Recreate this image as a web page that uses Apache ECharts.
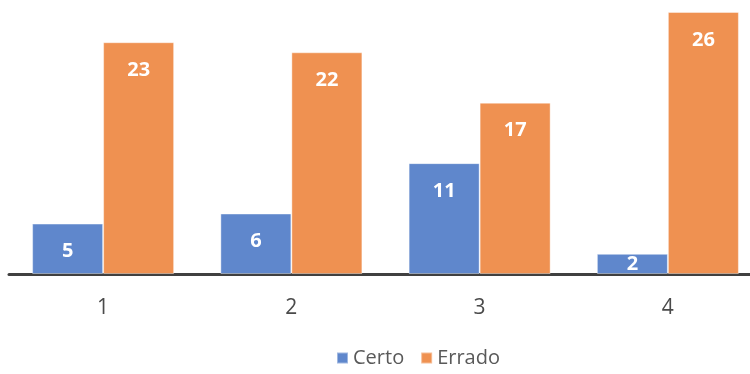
<!DOCTYPE html>
<html>
<head>
<meta charset="utf-8">
<script src="https://cdn.jsdelivr.net/npm/echarts@6/dist/echarts.min.js"></script>
<style>
  html, body { margin: 0; padding: 0; background: #fff; }
  #chart { width: 750px; height: 374px; }
</style>
</head>
<body>
<div id="chart"></div>
<script>
const categories = ["1", "2", "3", "4"];
const certo = [5, 6, 11, 2];
const errado = [23, 22, 17, 26];

const chart = echarts.init(document.getElementById("chart"));

// small bars keep the label centred instead of below the top
function withLabels(values) {
  return values.map(function (v) {
    if (v < 4) {
      return { value: v, label: { position: "inside" } };
    }
    return v;
  });
}

const labelStyle = {
  show: true,
  position: "insideTop",
  distance: 18,
  color: "#fff",
  fontWeight: "bold",
  fontSize: 20,
  fontFamily: "Open Sans"
};

chart.setOption({
  animation: false,
  textStyle: { fontFamily: "Open Sans" },
  grid: {
    left: 9,
    top: 12,
    width: 753,
    bottom: 100,
    outerBoundsMode: "none",
    containLabel: false
  },
  legend: {
    left: 331,
    top: 343,
    icon: "rect",
    itemWidth: 11,
    itemHeight: 11,
    itemGap: 16,
    textStyle: { fontSize: 20, color: "#595959", fontFamily: "Open Sans" },
    data: ["Certo", "Errado"]
  },
  xAxis: {
    type: "category",
    data: categories,
    axisLine: { lineStyle: { color: "#404040", width: 3 } },
    axisTick: { show: false },
    axisLabel: { fontSize: 21, color: "#4a4a4a", margin: 24 }
  },
  yAxis: {
    type: "value",
    min: 0,
    max: 26,
    show: false
  },
  series: [
    {
      name: "Certo",
      type: "bar",
      data: withLabels(certo),
      barWidth: 71,
      barGap: "0%",
      itemStyle: { color: "#5F87CC", borderColor: "rgba(255,255,255,0.4)", borderWidth: 1 },
      label: labelStyle
    },
    {
      name: "Errado",
      type: "bar",
      data: withLabels(errado),
      barWidth: 71,
      itemStyle: { color: "#EF9151", borderColor: "rgba(255,255,255,0.4)", borderWidth: 1 },
      label: labelStyle
    }
  ]
});
</script>
</body>
</html>
